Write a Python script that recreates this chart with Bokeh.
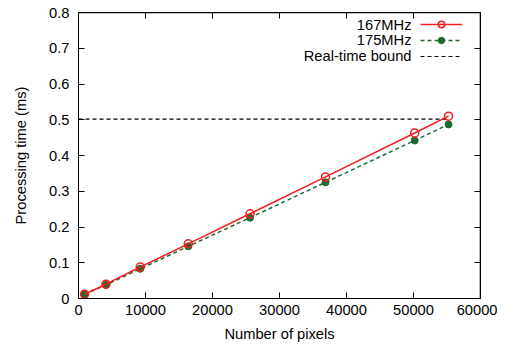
from bokeh.plotting import figure
from bokeh.models import (LinearAxis, FixedTicker, Range1d, Legend, LegendItem,
                          ColumnDataSource, Label, CustomJSTickFormatter, Span)
from bokeh.embed import file_html
from bokeh.resources import INLINE

# Data
pixels = [900, 4096, 9216, 16384, 25600, 36864, 50176, 55225]
t_167 = [0.012, 0.040, 0.088, 0.153, 0.237, 0.340, 0.463, 0.510]
t_175 = [0.011, 0.038, 0.083, 0.146, 0.226, 0.325, 0.442, 0.487]
bound_x = [0, 55225]
bound_y = [0.502, 0.502]
x_ticks = [0, 10000, 20000, 30000, 40000, 50000, 60000]
y_ticks = [0, 0.1, 0.2, 0.3, 0.4, 0.5, 0.6, 0.7, 0.8]
series_names = ["167MHz", "175MHz", "Real-time bound"]

RED = "#f41e1e"
GREEN = "#1c6a30"
FONT = "Liberation Sans"
FS = "14.7px"

p = figure(width=497, height=347, output_backend="svg", toolbar_location=None,
           x_range=Range1d(x_ticks[0], x_ticks[-1]), y_range=Range1d(y_ticks[0], y_ticks[-1]),
           min_border_left=78, min_border_top=12, min_border_right=17, min_border_bottom=49)
p.outline_line_color = "black"
p.outline_line_width = 1
p.xgrid.visible = False
p.ygrid.visible = False
p.background_fill_color = "white"
p.border_fill_color = "white"

blank = CustomJSTickFormatter(code="return ''")

def style_axis(ax, show_labels=True):
    ax.axis_line_color = "black"
    ax.axis_line_width = 1
    ax.major_tick_in = 6
    ax.major_tick_out = 0
    ax.minor_tick_line_color = None
    ax.major_tick_line_color = "black"
    ax.major_label_text_font = FONT
    ax.major_label_text_font_size = FS
    ax.major_label_text_color = "black"
    ax.axis_label_text_font = FONT
    ax.axis_label_text_font_size = FS
    ax.axis_label_text_font_style = "normal"
    ax.axis_label_text_color = "black"
    if not show_labels:
        ax.formatter = blank
        ax.major_label_standoff = 0

p.xaxis.ticker = FixedTicker(ticks=x_ticks)
p.yaxis.ticker = FixedTicker(ticks=y_ticks)
p.yaxis.major_label_overrides = {0: "0"}
p.xaxis.axis_label = "Number of pixels"
p.yaxis.axis_label = "Processing time (ms)"
style_axis(p.xaxis[0])
style_axis(p.yaxis[0])
p.xaxis.major_label_standoff = 6
p.yaxis.major_label_standoff = 9
p.xaxis.axis_label_standoff = 8
p.yaxis.axis_label_standoff = 17

ax_top = LinearAxis(ticker=FixedTicker(ticks=x_ticks))
ax_right = LinearAxis(ticker=FixedTicker(ticks=y_ticks))
style_axis(ax_top, False)
style_axis(ax_right, False)
p.add_layout(ax_top, "above")
p.add_layout(ax_right, "right")

# top and right border of the frame (gnuplot box)
p.add_layout(Span(location=y_ticks[-1], dimension="width", line_color="black", line_width=1.6))
p.add_layout(Span(location=x_ticks[-1], dimension="height", line_color="black", line_width=1.6))

src167 = ColumnDataSource(dict(x=pixels, y=t_167))
src175 = ColumnDataSource(dict(x=pixels, y=t_175))

l3 = p.line(bound_x, bound_y, line_color="black", line_width=1.2, line_dash="4 3")
l2 = p.line("x", "y", source=src175, line_color=GREEN, line_width=1.5, line_dash="4 3")
m2 = p.scatter("x", "y", source=src175, size=7, marker="circle", fill_color=GREEN,
               line_color=GREEN)
l1 = p.line("x", "y", source=src167, line_color=RED, line_width=1.5)
m1 = p.scatter("x", "y", source=src167, size=8, marker="circle", fill_color=None,
               line_color=RED, line_width=1.5)

# Legend glyph samples (labels drawn separately to the left, gnuplot style)
legend = Legend(items=[
    LegendItem(label=" ", renderers=[l1, m1]),
    LegendItem(label=" ", renderers=[l2, m2]),
    LegendItem(label=" ", renderers=[l3]),
], location=(342, 234))
legend.glyph_width = 42
legend.glyph_height = 16
legend.label_height = 16
legend.spacing = -1
legend.padding = 0
legend.margin = 0
legend.label_standoff = 0
legend.border_line_color = None
legend.background_fill_color = None
legend.label_text_font = FONT
legend.label_text_font_size = FS
p.add_layout(legend, "center")

for i, name in enumerate(series_names):
    p.add_layout(Label(x=333, y=274 - 15.5 * i, x_units="screen", y_units="screen",
                       text=name, text_align="right", text_baseline="middle",
                       text_font=FONT, text_font_size=FS, text_color="black"))

open("out.html", "w").write(file_html(p, INLINE))
